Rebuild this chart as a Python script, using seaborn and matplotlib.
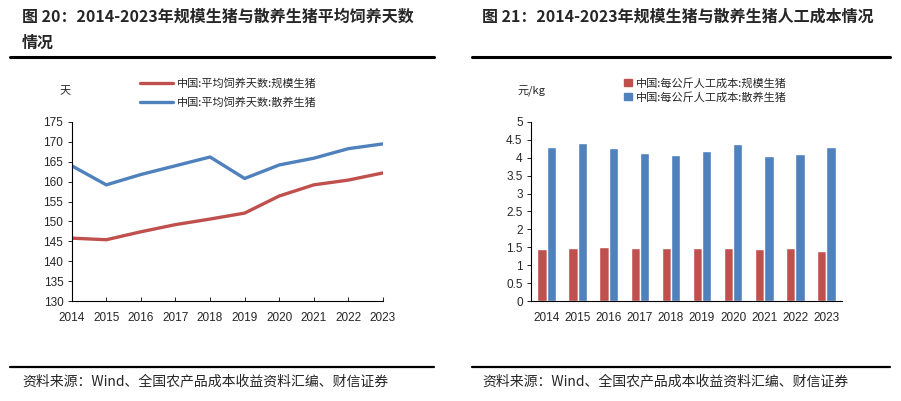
import pandas as pd
import matplotlib.pyplot as plt
import seaborn as sns

# Data
years = [2014, 2015, 2016, 2017, 2018, 2019, 2020, 2021, 2022, 2023]
days_scale = [145.8, 145.4, 147.4, 149.2, 150.6, 152.1, 156.4, 159.2, 160.4, 162.2]
days_backyard = [164.0, 159.2, 161.8, 164.0, 166.2, 160.8, 164.2, 165.9, 168.3, 169.5]
labor_scale = [1.45, 1.48, 1.51, 1.48, 1.48, 1.48, 1.48, 1.45, 1.48, 1.41]
labor_backyard = [4.31, 4.42, 4.28, 4.14, 4.07, 4.18, 4.38, 4.04, 4.10, 4.31]

names_days = ['中国:平均饲养天数:规模生猪', '中国:平均饲养天数:散养生猪']
names_labor = ['中国:每公斤人工成本:规模生猪', '中国:每公斤人工成本:散养生猪']
red, blue = '#C0504D', '#4F81BD'

sns.set_theme(style='white')
plt.rcParams['font.family'] = ['Noto Sans CJK SC', 'DejaVu Sans']
plt.rcParams['axes.unicode_minus'] = False
num_font = ['Liberation Sans', 'Noto Sans CJK SC']

df_days = pd.DataFrame({
    'year': years * 2,
    'value': days_scale + days_backyard,
    'series': [names_days[0]] * len(years) + [names_days[1]] * len(years),
})
df_labor = pd.DataFrame({
    'year': [str(y) for y in years] * 2,
    'value': labor_scale + labor_backyard,
    'series': [names_labor[0]] * len(years) + [names_labor[1]] * len(years),
})

W, H = 901, 401
fig = plt.figure(figsize=(9.01, 4.01), dpi=100)
ax1 = fig.add_axes([71.7 / W, 1 - 301 / H, 311.3 / W, 179 / H])
ax2 = fig.add_axes([531 / W, 1 - 301 / H, 311 / W, 179 / H])

# Left: average feeding days
sns.lineplot(data=df_days, x='year', y='value', hue='series',
             palette=[red, blue], linewidth=2.4, ax=ax1, legend=False)
ax1.set_xlim(2014, 2023)
ax1.set_ylim(130, 175)
ax1.set_xticks(years)
ax1.set_yticks(range(130, 176, 5))
ax1.set_xlabel('')
ax1.set_ylabel('')
h1 = [plt.Line2D([], [], color=red, lw=2.4), plt.Line2D([], [], color=blue, lw=2.4)]
fig.legend(h1, names_days, loc='center left', bbox_to_anchor=(140 / W, 1 - 93 / H),
           frameon=False, fontsize=8, handlelength=3.0, handletextpad=0.3,
           labelspacing=0.75, borderpad=0, borderaxespad=0)
fig.text(60 / W, 1 - 91 / H, '天', fontsize=8, va='center')

# Right: labour cost per kg
sns.barplot(data=df_labor, x='year', y='value', hue='series',
            palette=[red, blue], width=0.6, gap=0, saturation=1, ax=ax2, legend=False)
ax2.set_ylim(0, 5)
ax2.set_yticks([i * 0.5 for i in range(11)])
ax2.set_yticklabels(['%g' % (i * 0.5) for i in range(11)])
ax2.set_xlabel('')
ax2.set_ylabel('')
h2 = [plt.Rectangle((0, 0), 1, 1, color=red), plt.Rectangle((0, 0), 1, 1, color=blue)]
fig.legend(h2, names_labor, loc='center left', bbox_to_anchor=(624 / W, 1 - 90 / H),
           frameon=False, fontsize=8, handlelength=0.7, handleheight=0.7,
           handletextpad=0.4, labelspacing=0.3, borderpad=0, borderaxespad=0)
fig.text(518 / W, 1 - 91 / H, '元/kg', fontsize=8, va='center')

for ax in (ax1, ax2):
    for s in ('top', 'right'):
        ax.spines[s].set_visible(False)
    for s in ('left', 'bottom'):
        ax.spines[s].set_color('black')
        ax.spines[s].set_linewidth(0.8)
    ax.tick_params(axis='both', labelsize=8.5, length=3, width=0.6, color='black',
                   left=True, bottom=True, pad=3)
    ax.tick_params(axis='x', direction='in', pad=8)
    for lab in ax.get_xticklabels() + ax.get_yticklabels():
        lab.set_family(num_font)
    ax.grid(False)

# Titles, rules and source notes
fig.text(22 / W, 1 - 17 / H, '图 20：2014-2023年规模生猪与散养生猪平均饲养天数',
         fontsize=11.5, fontweight='bold', va='center')
fig.text(22 / W, 1 - 43 / H, '情况', fontsize=11.5, fontweight='bold', va='center')
fig.text(482 / W, 1 - 17 / H, '图 21：2014-2023年规模生猪与散养生猪人工成本情况',
         fontsize=11.5, fontweight='bold', va='center')
for x0, x1 in ((10, 434), (472, 890)):
    fig.add_artist(plt.Line2D([x0 / W, x1 / W], [1 - 57 / H] * 2, color='black', lw=2.2))
    fig.add_artist(plt.Line2D([x0 / W, x1 / W], [1 - 367 / H] * 2, color='black', lw=1.6))
for x0 in (22, 482):
    fig.text(x0 / W, 1 - 381 / H, '资料来源：Wind、全国农产品成本收益资料汇编、财信证券',
             fontsize=10, style='italic', va='center')

fig.savefig('out.png', dpi=100, facecolor='white')
